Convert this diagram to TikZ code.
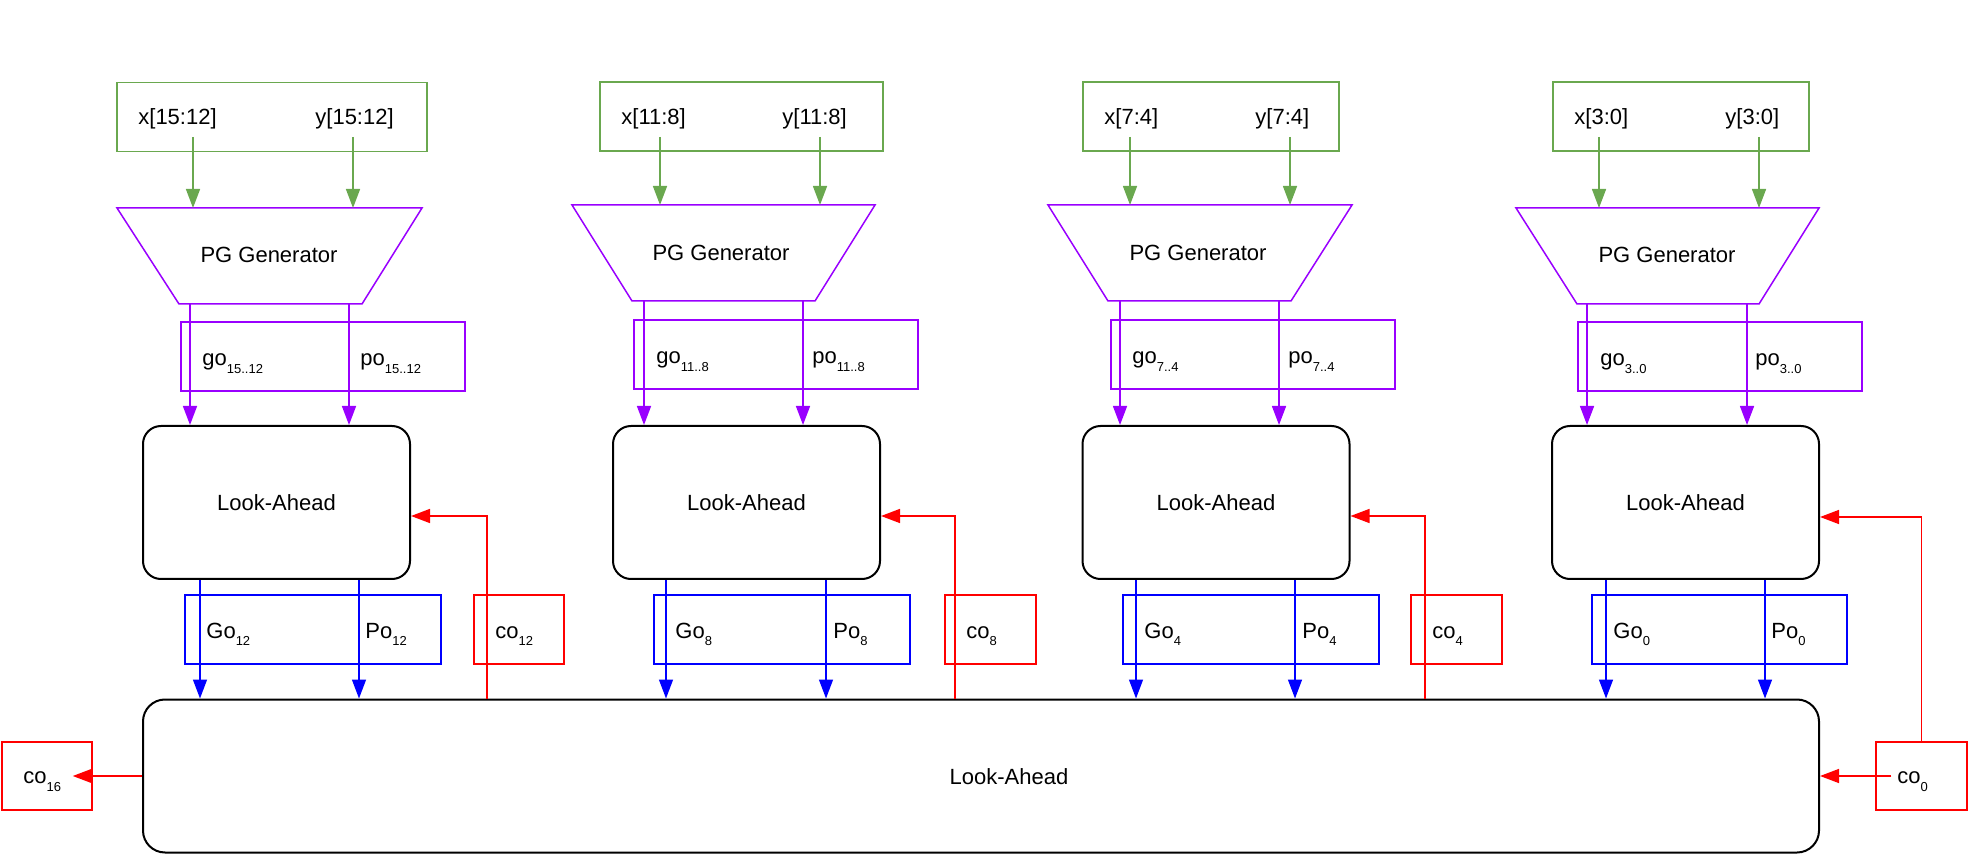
\documentclass[tikz,border=0pt]{standalone}
\usepackage{fontspec}
\setmainfont{Liberation Sans}
\usetikzlibrary{arrows.meta}
\definecolor{ingreen}{HTML}{6AA84F}
\definecolor{pgpurple}{HTML}{9900FF}
% small lowered index, as in go_{3..0}
\newcommand{\lowidx}[1]{\raisebox{-4pt}{\fontsize{6.5}{7}\selectfont #1}}

\begin{document}
\begin{tikzpicture}[x=0.5pt,y=-0.5pt,
    font=\fontsize{11}{13}\selectfont,
    inbox/.style={draw=ingreen,line width=0.75pt,inner sep=0,minimum height=34.5pt},
    pgbox/.style={draw=pgpurple,line width=0.75pt,inner sep=0,minimum width=142pt,minimum height=34.5pt},
    gpbox/.style={draw=blue,line width=0.75pt,inner sep=0,minimum width=128pt,minimum height=34.5pt},
    cobox/.style={draw=red,line width=0.75pt,inner sep=0,minimum width=45.5pt,minimum height=34.5pt},
    labox/.style={draw,line width=1pt,rounded corners=9pt,minimum width=133.5pt,minimum height=76.5pt},
    pgline/.style={draw=pgpurple,line width=0.75pt},
    lbl/.style={inner sep=0,anchor=base west},
    garr/.style={ingreen,line width=0.75pt,-{Triangle[length=9.5pt,width=7pt]}},
    parr/.style={pgpurple,line width=0.75pt,-{Triangle[length=9.5pt,width=7pt]}},
    barr/.style={blue,line width=0.75pt,-{Triangle[length=9.5pt,width=7pt]}},
    rarr/.style={red,line width=0.75pt,-{Triangle[length=9.5pt,width=7pt]}}]
  \useasboundingbox (0,0) rectangle (1968,854);

  % common look-ahead unit at the bottom
  \node[draw,line width=1pt,rounded corners=11pt,minimum width=838pt,minimum height=76.5pt] (big) at (981,776) {};
  \node (bigl) at (1009,777) {Look-Ahead};

  % bits 15..12
  \node[inbox,minimum width=155pt] (gin1) at (272,117) {};
  \node[lbl] (xl1) at (138,125) {x[15:12]};
  \node[lbl] (yl1) at (315,125) {y[15:12]};
  \coordinate (tpa1) at (117,208); \coordinate (tpb1) at (422,208);
  \coordinate (tpc1) at (362,304); \coordinate (tpd1) at (179,304);
  \draw[pgline] (tpa1) -- (tpb1) -- (tpc1) -- (tpd1) -- cycle;
  \node (pg1) at (269,255) {PG Generator};
  \node[pgbox] (pgo1) at (323,356.5) {};
  \node[lbl] (gol1) at (202,366) {go\lowidx{15..12}};
  \node[lbl] (pol1) at (360,366) {po\lowidx{15..12}};
  \node[labox] (la1) at (276.5,502.5) {Look-Ahead};
  \node[gpbox] (gp1) at (313,629.5) {};
  \node[lbl] (Gol1) at (206,638) {Go\lowidx{12}};
  \node[lbl] (Pol1) at (365,638) {Po\lowidx{12}};
  \node[cobox,minimum width=45pt] (co12) at (519,629.5) {};
  \node[lbl] (col12) at (495,638) {co\lowidx{12}};
  \draw[garr] (193,137) -- (193,0 |- tpa1);
  \draw[garr] (353,137) -- (353,0 |- tpa1);
  \draw[parr] (190,0 |- tpd1) -- (190,0 |- la1.north);
  \draw[parr] (349,0 |- tpd1) -- (349,0 |- la1.north);
  \draw[barr] (200,0 |- la1.south) -- (200,0 |- big.north);
  \draw[barr] (359,0 |- la1.south) -- (359,0 |- big.north);
  \draw[rarr] (487,0 |- big.north) |- (la1.east |- 0,516);

  % bits 11..8
  \node[inbox,minimum width=141.5pt] (gin2) at (741.5,116.5) {};
  \node[lbl] (xl2) at (621,125) {x[11:8]};
  \node[lbl] (yl2) at (782,125) {y[11:8]};
  \coordinate (tpa2) at (572,205); \coordinate (tpb2) at (875,205);
  \coordinate (tpc2) at (815,301); \coordinate (tpd2) at (632,301);
  \draw[pgline] (tpa2) -- (tpb2) -- (tpc2) -- (tpd2) -- cycle;
  \node (pg2) at (721,253) {PG Generator};
  \node[pgbox] (pgo2) at (776,354.5) {};
  \node[lbl] (gol2) at (656,364) {go\lowidx{11..8}};
  \node[lbl] (pol2) at (812,364) {po\lowidx{11..8}};
  \node[labox] (la2) at (746.5,502.5) {Look-Ahead};
  \node[gpbox] (gp2) at (782,629.5) {};
  \node[lbl] (Gol2) at (675,638) {Go\lowidx{8}};
  \node[lbl] (Pol2) at (833,638) {Po\lowidx{8}};
  \node[cobox] (co8) at (990.5,629.5) {};
  \node[lbl] (col8) at (966,638) {co\lowidx{8}};
  \draw[garr] (660,137) -- (660,0 |- tpa2);
  \draw[garr] (820,137) -- (820,0 |- tpa2);
  \draw[parr] (644,0 |- tpd2) -- (644,0 |- la2.north);
  \draw[parr] (803,0 |- tpd2) -- (803,0 |- la2.north);
  \draw[barr] (666,0 |- la2.south) -- (666,0 |- big.north);
  \draw[barr] (826,0 |- la2.south) -- (826,0 |- big.north);
  \draw[rarr] (955,0 |- big.north) |- (la2.east |- 0,516);

  % bits 7..4
  \node[inbox,minimum width=128pt] (gin3) at (1211,116.5) {};
  \node[lbl] (xl3) at (1104,125) {x[7:4]};
  \node[lbl] (yl3) at (1255,125) {y[7:4]};
  \coordinate (tpa3) at (1048,205); \coordinate (tpb3) at (1352,205);
  \coordinate (tpc3) at (1291,301); \coordinate (tpd3) at (1108,301);
  \draw[pgline] (tpa3) -- (tpb3) -- (tpc3) -- (tpd3) -- cycle;
  \node (pg3) at (1198,253) {PG Generator};
  \node[pgbox] (pgo3) at (1253,354.5) {};
  \node[lbl] (gol3) at (1132,364) {go\lowidx{7..4}};
  \node[lbl] (pol3) at (1288,364) {po\lowidx{7..4}};
  \node[labox] (la3) at (1216,502.5) {Look-Ahead};
  \node[gpbox] (gp3) at (1251,629.5) {};
  \node[lbl] (Gol3) at (1144,638) {Go\lowidx{4}};
  \node[lbl] (Pol3) at (1302,638) {Po\lowidx{4}};
  \node[cobox] (co4) at (1456.5,629.5) {};
  \node[lbl] (col4) at (1432,638) {co\lowidx{4}};
  \draw[garr] (1130,137) -- (1130,0 |- tpa3);
  \draw[garr] (1290,137) -- (1290,0 |- tpa3);
  \draw[parr] (1120,0 |- tpd3) -- (1120,0 |- la3.north);
  \draw[parr] (1279,0 |- tpd3) -- (1279,0 |- la3.north);
  \draw[barr] (1136,0 |- la3.south) -- (1136,0 |- big.north);
  \draw[barr] (1295,0 |- la3.south) -- (1295,0 |- big.north);
  \draw[rarr] (1425,0 |- big.north) |- (la3.east |- 0,516);

  % bits 3..0
  \node[inbox,minimum width=128pt] (gin4) at (1681,116.5) {};
  \node[lbl] (xl4) at (1574,125) {x[3:0]};
  \node[lbl] (yl4) at (1725,125) {y[3:0]};
  \coordinate (tpa4) at (1516,208); \coordinate (tpb4) at (1819,208);
  \coordinate (tpc4) at (1759,304); \coordinate (tpd4) at (1577,304);
  \draw[pgline] (tpa4) -- (tpb4) -- (tpc4) -- (tpd4) -- cycle;
  \node (pg4) at (1667,255) {PG Generator};
  \node[pgbox] (pgo4) at (1720,356.5) {};
  \node[lbl] (gol4) at (1600,366) {go\lowidx{3..0}};
  \node[lbl] (pol4) at (1755,366) {po\lowidx{3..0}};
  \node[labox] (la4) at (1685.5,502.5) {Look-Ahead};
  \node[gpbox,minimum width=127.5pt] (gp4) at (1719.5,629.5) {};
  \node[lbl] (Gol4) at (1613,638) {Go\lowidx{0}};
  \node[lbl] (Pol4) at (1771,638) {Po\lowidx{0}};
  \draw[garr] (1599,137) -- (1599,0 |- tpa4);
  \draw[garr] (1759,137) -- (1759,0 |- tpa4);
  \draw[parr] (1587,0 |- tpd4) -- (1587,0 |- la4.north);
  \draw[parr] (1747,0 |- tpd4) -- (1747,0 |- la4.north);
  \draw[barr] (1606,0 |- la4.south) -- (1606,0 |- big.north);
  \draw[barr] (1765,0 |- la4.south) -- (1765,0 |- big.north);

  % carry in and carry out
  \node[cobox,minimum height=34pt] (co0) at (1921.5,776) {};
  \node[lbl] (col0) at (1897,783) {co\lowidx{0}};
  \draw[rarr] (co0.north) |- (la4.east |- 0,517);
  \draw[rarr] ([xshift=8pt]co0.west) -- (big.east |- co0);
  \node[cobox,minimum width=45pt,minimum height=34pt] (co16) at (47,776) {};
  \node[lbl] (col16) at (23,783) {co\lowidx{16}};
  \draw[rarr] (big.west) -- ([xshift=-10pt]co16.east);
\end{tikzpicture}
\end{document}
